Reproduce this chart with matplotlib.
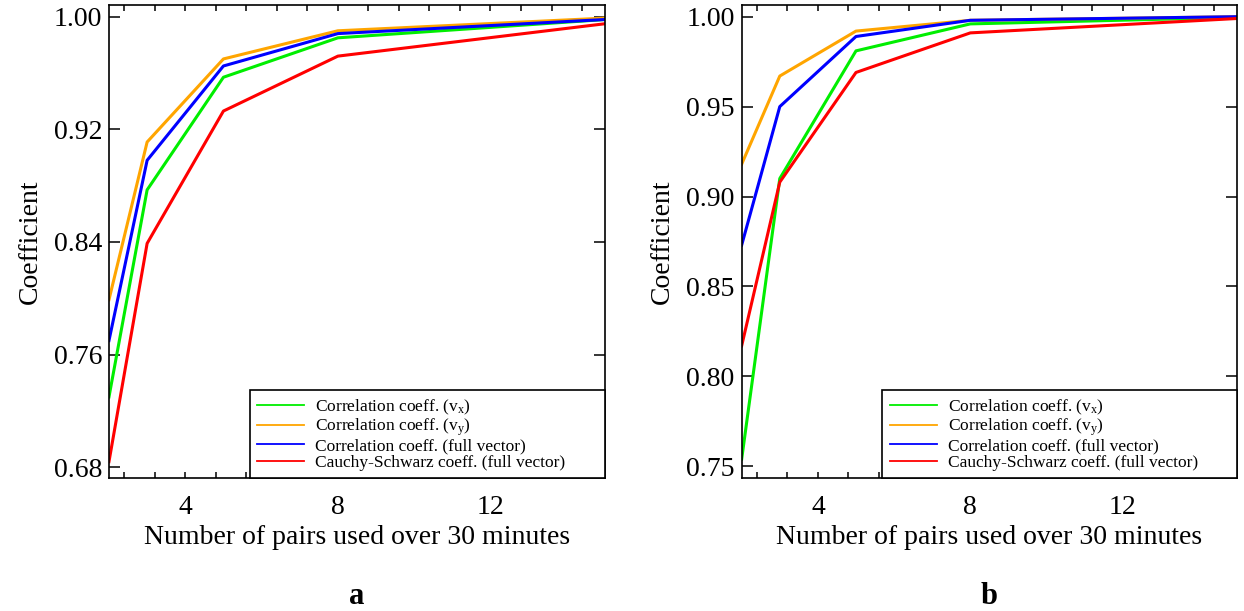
import numpy as np
import matplotlib
matplotlib.use("Agg")
import matplotlib.pyplot as plt
from matplotlib.ticker import MultipleLocator, FormatStrFormatter

# data
pairs = [2, 3, 5, 8, 15]

a_vx   = [0.730, 0.877, 0.957, 0.985, 0.998]
a_vy   = [0.799, 0.911, 0.970, 0.990, 0.999]
a_full = [0.770, 0.898, 0.965, 0.988, 0.998]
a_cs   = [0.684, 0.839, 0.933, 0.972, 0.995]

b_vx   = [0.754, 0.910, 0.981, 0.996, 0.9996]
b_vy   = [0.918, 0.967, 0.992, 0.998, 1.000]
b_full = [0.873, 0.950, 0.989, 0.998, 1.000]
b_cs   = [0.817, 0.908, 0.969, 0.991, 0.999]

labels = [r"Correlation coeff. ($\mathregular{v_x}$)",
          r"Correlation coeff. ($\mathregular{v_y}$)",
          "Correlation coeff. (full vector)",
          "Cauchy-Schwarz coeff. (full vector)"]
colors = ["#00ee00", "#ffa500", "#0000ff", "#ff0000"]

a_ticks = [0.68, 0.76, 0.84, 0.92, 1.00]
b_ticks = [0.75, 0.80, 0.85, 0.90, 0.95, 1.00]

plt.rcParams["font.family"] = ["Liberation Serif", "DejaVu Serif"]
plt.rcParams["mathtext.fontset"] = "custom"
plt.rcParams["mathtext.rm"] = "Liberation Serif"

fig = plt.figure(figsize=(12.44, 6.11), dpi=100)
ax1 = fig.add_axes([0.0876, 0.2177, 0.3987, 0.7741])
ax2 = fig.add_axes([0.5962, 0.2177, 0.3982, 0.7741])

panels = [(ax1, [a_vx, a_vy, a_full, a_cs], a_ticks, (0.6724, 1.0083), "a"),
          (ax2, [b_vx, b_vy, b_full, b_cs], b_ticks, (0.7435, 1.0065), "b")]

for ax, series, yt, ylim, tag in panels:
    for s, c, lab in zip(series, colors, labels):
        ax.plot(pairs, s, color=c, lw=2.2, label=lab)
    ax.set_xlim(2, 15)
    ax.set_ylim(*ylim)
    ax.set_xticks([4, 8, 12])
    ax.xaxis.set_minor_locator(MultipleLocator(0.8))
    ax.set_yticks(yt)
    ax.yaxis.set_major_formatter(FormatStrFormatter("%.2f"))
    ax.tick_params(axis="x", which="both", direction="in", top=True,
                   length=4.5, width=1.1, labelsize=20, pad=12)
    ax.tick_params(axis="y", which="major", direction="in", right=True,
                   length=8, width=1.1, labelsize=20, pad=5)
    for sp in ax.spines.values():
        sp.set_linewidth(1.2)
    ax.set_xlabel("Number of pairs used over 30 minutes", fontsize=20, labelpad=4)
    ax.set_ylabel("Coefficient", fontsize=20, labelpad=8)
    leg = ax.legend(loc="lower left", bbox_to_anchor=(0.284, 0.0, 0.716, 0.18),
                    mode="expand", fontsize=12.5, frameon=True, fancybox=False,
                    edgecolor="black", framealpha=1, borderaxespad=0,
                    handlelength=2.7, handletextpad=0.65, labelspacing=0.0,
                    borderpad=0.42)
    leg.get_frame().set_linewidth(1.2)
    for ln in leg.get_lines():
        ln.set_linewidth(1.3)
    ax.text(0.5, -0.25, tag, transform=ax.transAxes, ha="center", va="center",
            fontsize=22, fontweight="bold")

fig.savefig("out.png", dpi=100)
